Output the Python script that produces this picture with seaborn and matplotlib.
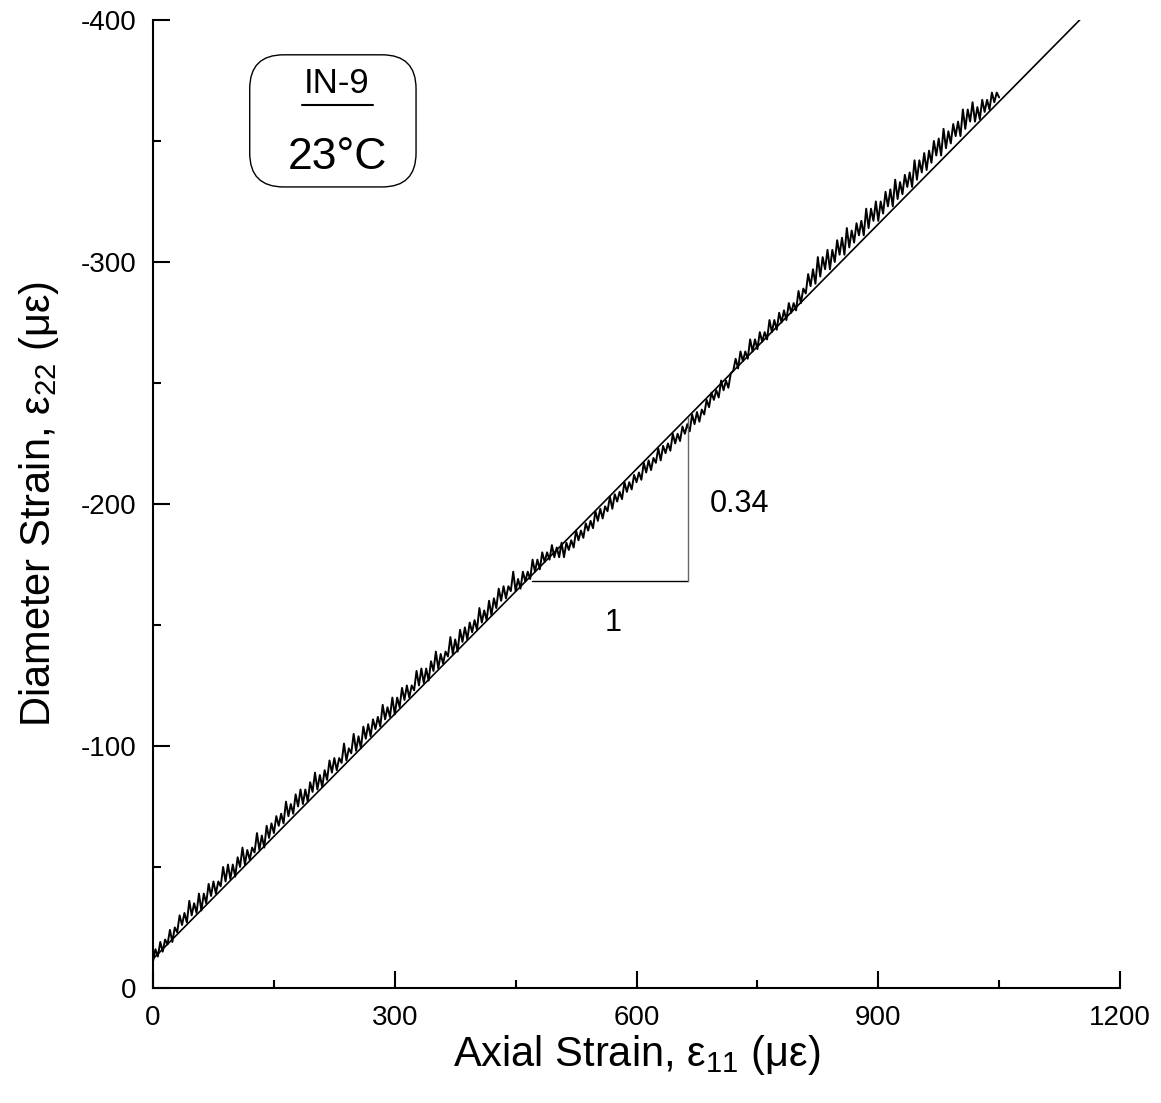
import numpy as np
import pandas as pd
import matplotlib
matplotlib.use("Agg")
import matplotlib.pyplot as plt
import seaborn as sns
from matplotlib.patches import FancyBboxPatch
from matplotlib.ticker import MultipleLocator

# measured record, axial strain sampled every 3 micro-strain
axial = np.arange(0, 1051, 3)
diameter = [
    -11, -16, -13, -19, -15, -20, -18, -24, -19, -25,
    -23, -30, -26, -31, -27, -36, -30, -35, -31, -39,
    -32, -39, -35, -43, -38, -44, -39, -44, -42, -50,
    -44, -51, -45, -51, -46, -54, -50, -58, -51, -57,
    -53, -58, -56, -64, -57, -63, -58, -67, -62, -68,
    -64, -71, -67, -72, -68, -77, -71, -76, -72, -80,
    -75, -82, -76, -82, -77, -85, -81, -89, -82, -88,
    -83, -90, -86, -94, -89, -95, -90, -95, -93, -101,
    -94, -99, -97, -105, -98, -104, -99, -108, -103, -109,
    -104, -111, -107, -112, -108, -117, -111, -116, -112, -120,
    -113, -120, -116, -124, -119, -125, -120, -125, -123, -131,
    -125, -132, -126, -132, -127, -135, -131, -139, -132, -138,
    -134, -139, -137, -145, -138, -144, -139, -148, -143, -149,
    -144, -151, -147, -152, -148, -157, -151, -156, -152, -160,
    -154, -161, -157, -165, -160, -166, -161, -166, -164, -172,
    -164, -169, -165, -172, -168, -172, -169, -177, -172, -177,
    -173, -180, -176, -180, -177, -183, -178, -182, -178, -184,
    -178, -184, -181, -185, -182, -189, -185, -189, -186, -192,
    -189, -193, -190, -197, -193, -198, -194, -199, -197, -203,
    -198, -204, -201, -205, -202, -209, -205, -209, -206, -212,
    -209, -213, -210, -217, -213, -218, -214, -219, -217, -223,
    -218, -224, -221, -225, -222, -229, -225, -229, -226, -232,
    -229, -233, -230, -237, -233, -238, -234, -239, -237, -243,
    -240, -246, -243, -247, -244, -251, -247, -251, -248, -254,
    -255, -260, -256, -263, -259, -263, -260, -268, -263, -268,
    -264, -271, -267, -271, -268, -276, -271, -276, -272, -279,
    -275, -280, -276, -283, -279, -283, -280, -288, -283, -289,
    -287, -295, -290, -297, -291, -302, -294, -302, -297, -305,
    -297, -305, -300, -309, -303, -310, -303, -314, -306, -313,
    -308, -316, -311, -317, -311, -322, -314, -322, -317, -325,
    -317, -325, -320, -329, -323, -330, -323, -334, -326, -333,
    -328, -336, -331, -337, -331, -342, -334, -342, -337, -345,
    -338, -346, -341, -350, -344, -351, -344, -355, -347, -354,
    -349, -357, -352, -358, -352, -363, -355, -363, -358, -366,
    -358, -364, -359, -367, -362, -367, -363, -370, -366, -370,
    -368,
]

# straight fit, slope 0.34
fit_x = [0, 1150]
fit_y = [-12, -400]

# slope triangle
run_x = [470, 664]
run_y = [-168, -168]
rise_x = [664, 664]
rise_y = [-168, -236]

df = pd.DataFrame({"axial": axial, "diameter": diameter})
fit = pd.DataFrame({"axial": fit_x, "diameter": fit_y})

sns.set_style("ticks")
plt.rcParams['font.family'] = ['Liberation Sans', 'DejaVu Sans']
plt.rcParams['mathtext.fontset'] = 'custom'
plt.rcParams['mathtext.rm'] = 'Liberation Sans'
plt.rcParams['mathtext.it'] = 'Liberation Sans:italic'
plt.rcParams['axes.unicode_minus'] = False
for key in ['text.color', 'axes.labelcolor', 'xtick.color', 'ytick.color',
            'axes.edgecolor']:
    plt.rcParams[key] = 'black'

fig = plt.figure(figsize=(11.61, 11.03), dpi=100)
ax = fig.add_axes([0.1318, 0.1043, 0.8329, 0.8776])

sns.lineplot(data=df, x="axial", y="diameter", ax=ax, color="black",
             lw=1.4, sort=False, estimator=None)
sns.lineplot(data=fit, x="axial", y="diameter", ax=ax, color="black",
             lw=1.2, sort=False, estimator=None)
ax.plot(run_x, run_y, color="black", lw=1.0)
ax.plot(rise_x, rise_y, color="#666666", lw=1.0)

ax.text(691, -200, "0.34", fontsize=22, va="center", ha="left")
ax.text(571, -151, "1", fontsize=22, va="center", ha="center")

box = FancyBboxPatch((0.100, 0.8275), 0.172, 0.1365,
                     boxstyle="round,pad=0,rounding_size=0.035",
                     transform=ax.transAxes, fc="white", ec="black", lw=1.0)
ax.add_patch(box)
ax.text(0.1903, 0.934, "IN-9", transform=ax.transAxes, fontsize=25,
        ha="center", va="center")
ax.plot([0.154, 0.2275], [0.912, 0.912], transform=ax.transAxes,
        color="black", lw=1.5)
ax.text(0.1903, 0.858, "23°C", transform=ax.transAxes, fontsize=32,
        ha="center", va="center")

ax.set_xlim(0, 1200)
ax.set_ylim(0, -400)
ax.xaxis.set_major_locator(MultipleLocator(300))
ax.xaxis.set_minor_locator(MultipleLocator(150))
ax.yaxis.set_major_locator(MultipleLocator(100))
ax.yaxis.set_minor_locator(MultipleLocator(50))
ax.tick_params(which="major", direction="in", length=12, width=1.5,
               labelsize=20, pad=12)
ax.tick_params(which="minor", direction="in", length=6, width=1.5)

for s in ["top", "right"]:
    ax.spines[s].set_visible(False)
for s in ["left", "bottom"]:
    ax.spines[s].set_linewidth(1.5)

ax.set_xlabel("Axial Strain, ε$_{11}$ (με)", fontsize=30, labelpad=2)
ax.set_ylabel("Diameter Strain, ε$_{22}$ (με)", fontsize=30, labelpad=14)

fig.savefig("out.png", dpi=100)
